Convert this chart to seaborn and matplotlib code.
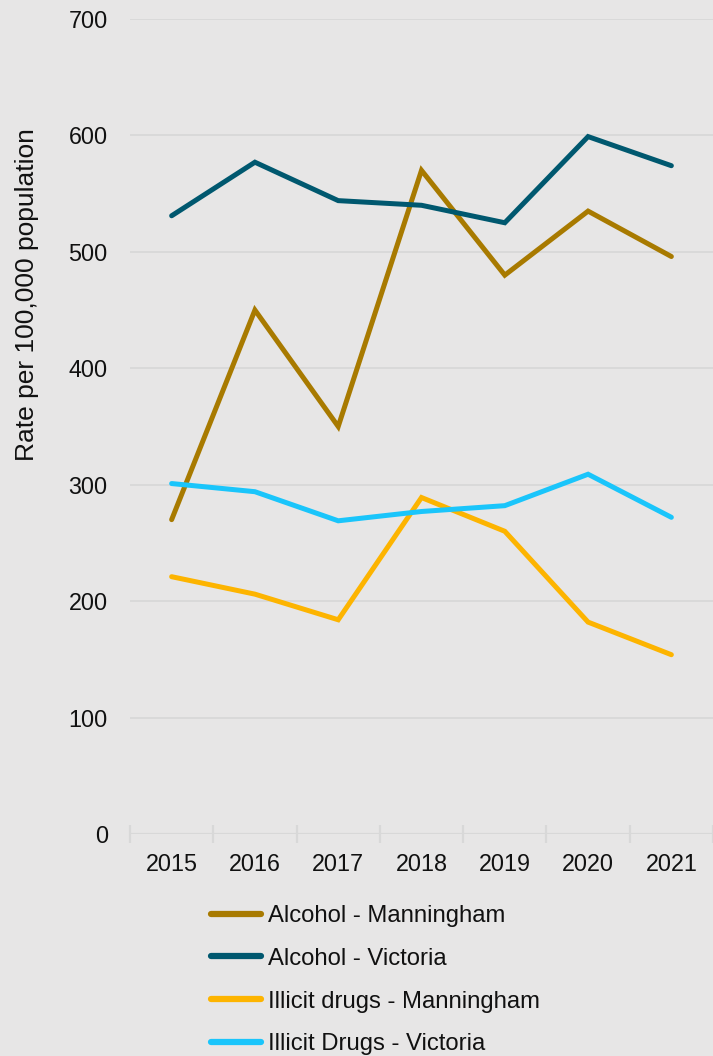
import matplotlib
matplotlib.use("Agg")
import matplotlib.pyplot as plt
import seaborn as sns
import pandas as pd
from matplotlib.ticker import FixedLocator, MultipleLocator
from matplotlib.lines import Line2D

years = ["2015", "2016", "2017", "2018", "2019", "2020", "2021"]
alcohol_manningham = [270, 450, 350, 570, 480, 535, 496]
alcohol_victoria = [531, 577, 544, 540, 525, 599, 574]
illicit_manningham = [221, 206, 184, 289, 260, 182, 154]
illicit_victoria = [301, 294, 269, 277, 282, 309, 272]

series_names = ["Alcohol - Manningham", "Alcohol - Victoria",
                "Illicit drugs - Manningham", "Illicit Drugs - Victoria"]
series_values = [alcohol_manningham, alcohol_victoria, illicit_manningham, illicit_victoria]
colors = ["#a87a00", "#00586f", "#fdb400", "#1ac5fb"]

rows = []
for name, vals in zip(series_names, series_values):
    for y, v in zip(years, vals):
        rows.append({"Year": y, "Rate": v, "Series": name})
df = pd.DataFrame(rows)

bg = "#e7e6e6"
grid_c = "#d8d8d8"
txt_c = "#111111"

sns.set_theme(style="white")
plt.rcParams["font.family"] = ["Liberation Sans", "DejaVu Sans"]

fig = plt.figure(figsize=(7.13, 10.56), dpi=100, facecolor=bg)
ax = fig.add_axes([130 / 713, 1 - 834 / 1056, 583 / 713, 815 / 1056])
ax.set_facecolor(bg)

sns.lineplot(data=df, x="Year", y="Rate", hue="Series", hue_order=series_names,
             palette=dict(zip(series_names, colors)), linewidth=3.6, ax=ax,
             legend=False, sort=False)
for ln in ax.get_lines():
    ln.set_solid_capstyle("round")
    ln.set_solid_joinstyle("miter")

ax.set_xlim(-0.5, 6.5)
ax.set_ylim(0, 700)
ax.yaxis.set_major_locator(MultipleLocator(100))
for s in ax.spines.values():
    s.set_visible(False)
ax.grid(False)
for v in range(100, 701, 100):
    ax.axhline(v, color=grid_c, lw=1.3, zorder=0)
ax.axhline(0, color=grid_c, lw=1.6, zorder=0)

ax.xaxis.set_minor_locator(FixedLocator([i - 0.5 for i in range(8)]))
ax.tick_params(axis="x", which="major", bottom=True, length=0, pad=14, labelsize=16.8, colors=txt_c)
ax.tick_params(axis="x", which="minor", bottom=True, length=13, width=1.6,
               direction="inout", color=grid_c)
ax.tick_params(axis="y", which="major", length=0, pad=16, labelsize=16.8, colors=txt_c)

ax.set_xlabel("")
ax.set_ylabel("Rate per 100,000 population", fontsize=19, color=txt_c)
ax.yaxis.label.set_va("center")
ax.yaxis.set_label_coords((27 - 130) / 583, (834 - 295) / 815)

handles = [Line2D([0], [0], color=c, lw=4.5, solid_capstyle="round") for c in colors]
fig.legend(handles, series_names, loc="upper left",
           bbox_to_anchor=(211 / 713, 1 - 905 / 1056), frameon=False,
           fontsize=17.2, handlelength=2.1, handletextpad=0.3, labelspacing=0.87,
           borderpad=0, borderaxespad=0, labelcolor=txt_c)

fig.savefig("out.png", dpi=100, facecolor=bg)
